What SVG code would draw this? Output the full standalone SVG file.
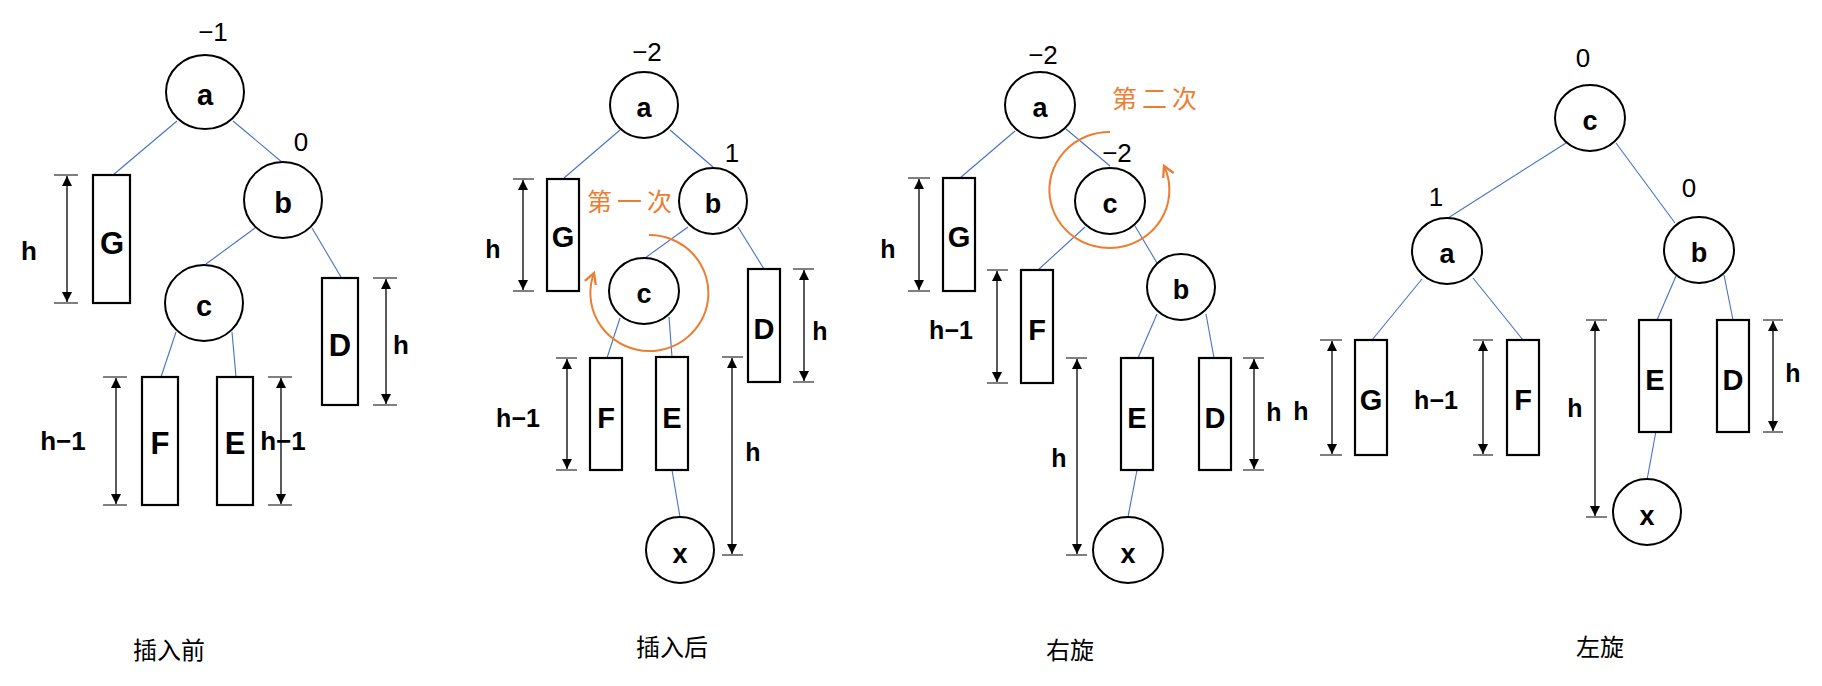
<svg xmlns="http://www.w3.org/2000/svg" width="1822" height="686" viewBox="0 0 1822 686">
<defs>
<marker id="ah" viewBox="0 0 10 10" refX="10" refY="5" markerWidth="10" markerHeight="10" markerUnits="userSpaceOnUse" orient="auto-start-reverse"><path d="M0,0 L10,5 L0,10 Z" fill="#000"/></marker>
<marker id="oa" viewBox="0 0 12 12" refX="10" refY="6" markerWidth="14" markerHeight="14" markerUnits="userSpaceOnUse" orient="auto"><path d="M1,1 L10,6 L1,11" fill="none" stroke="#ED7D31" stroke-width="2"/></marker>
<style>
.n{fill:#fff;stroke:#000;stroke-width:2}
.r{fill:#fff;stroke:#000;stroke-width:2.2}
.e{stroke:#4472C4;stroke-width:1.1;fill:none}
.d{stroke:#000;stroke-width:1.3;marker-start:url(#ah);marker-end:url(#ah)}
.t{stroke:#000;stroke-width:1}
.lb{font-family:"Liberation Sans",Arial,sans-serif;font-weight:bold;text-anchor:middle;dominant-baseline:central;fill:#000}
.num{font-family:"Liberation Sans",Arial,sans-serif;font-size:26px;text-anchor:middle;dominant-baseline:central;fill:#000}
.cap{font-family:"Noto Sans CJK SC",sans-serif;font-size:24px;text-anchor:middle;dominant-baseline:central;fill:#000}
.or{font-family:"Noto Sans CJK SC",sans-serif;font-size:25px;letter-spacing:5px;text-anchor:middle;dominant-baseline:central;fill:#ED7D31}
.arc{fill:none;stroke:#ED7D31;stroke-width:2;marker-end:url(#oa)}
</style>
</defs>
<g id="connectors">
<line class="e" x1="177" y1="121" x2="113" y2="175"/><line class="e" x1="233" y1="121" x2="283" y2="163"/>
<line class="e" x1="255" y1="228" x2="206" y2="264"/><line class="e" x1="312" y1="228" x2="341" y2="277"/>
<line class="e" x1="176" y1="332" x2="161" y2="377"/><line class="e" x1="232" y1="332" x2="236" y2="377"/>
<line class="e" x1="620" y1="130" x2="564" y2="178"/><line class="e" x1="670" y1="130" x2="713" y2="167"/>
<line class="e" x1="688" y1="227" x2="645" y2="258"/><line class="e" x1="738" y1="227" x2="764" y2="269"/>
<line class="e" x1="620" y1="318" x2="607" y2="358"/><line class="e" x1="669" y1="317" x2="672" y2="357"/>
<line class="e" x1="672" y1="470" x2="680" y2="517"/>
<line class="e" x1="1015" y1="131" x2="960" y2="178"/><line class="e" x1="1066" y1="129" x2="1110" y2="166"/>
<line class="e" x1="1085" y1="227" x2="1038" y2="270"/><line class="e" x1="1135" y1="226" x2="1157" y2="263"/>
<line class="e" x1="1157" y1="314" x2="1138" y2="358"/><line class="e" x1="1206" y1="314" x2="1214" y2="358"/>
<line class="e" x1="1137" y1="470" x2="1128" y2="517"/>
<line class="e" x1="1566" y1="143" x2="1448" y2="218"/><line class="e" x1="1616" y1="143" x2="1675" y2="223"/>
<line class="e" x1="1422" y1="279" x2="1372" y2="340"/><line class="e" x1="1473" y1="278" x2="1523" y2="340"/>
<line class="e" x1="1676" y1="276" x2="1657" y2="320"/><line class="e" x1="1724" y1="275" x2="1733" y2="320"/>
<line class="e" x1="1656" y1="431" x2="1647" y2="480"/>
</g>
<g id="dimensions">
<line class="t" x1="54" y1="175" x2="78" y2="175"/><line class="t" x1="54" y1="303" x2="78" y2="303"/><line class="d" x1="67" y1="176" x2="67" y2="302"/><text class="lb" x="29" y="251" font-size="26">h</text>
<line class="t" x1="373" y1="278" x2="397" y2="278"/><line class="t" x1="373" y1="405" x2="397" y2="405"/><line class="d" x1="386" y1="279" x2="386" y2="404"/><text class="lb" x="401" y="345" font-size="26">h</text>
<line class="t" x1="103" y1="377" x2="127" y2="377"/><line class="t" x1="103" y1="505" x2="127" y2="505"/><line class="d" x1="116" y1="378" x2="116" y2="504"/><text class="lb" x="63" y="441" font-size="26">h−1</text>
<line class="t" x1="268" y1="377" x2="292" y2="377"/><line class="t" x1="268" y1="505" x2="292" y2="505"/><line class="d" x1="281" y1="378" x2="281" y2="504"/><text class="lb" x="283" y="441" font-size="26">h−1</text>

<line class="t" x1="513" y1="179" x2="534" y2="179"/><line class="t" x1="513" y1="291" x2="534" y2="291"/><line class="d" x1="523" y1="180" x2="523" y2="290"/><text class="lb" x="493" y="249" font-size="25">h</text>
<line class="t" x1="556" y1="358" x2="577" y2="358"/><line class="t" x1="556" y1="470" x2="577" y2="470"/><line class="d" x1="567" y1="359" x2="567" y2="469"/><text class="lb" x="518" y="418" font-size="25">h−1</text>
<line class="t" x1="793" y1="269" x2="814" y2="269"/><line class="t" x1="793" y1="382" x2="814" y2="382"/><line class="d" x1="804" y1="270" x2="804" y2="381"/><text class="lb" x="820" y="331" font-size="25">h</text>
<line class="t" x1="722" y1="357" x2="743" y2="357"/><line class="t" x1="722" y1="555" x2="743" y2="555"/><line class="d" x1="732" y1="358" x2="732" y2="554"/><text class="lb" x="753" y="452" font-size="25">h</text>

<line class="t" x1="908" y1="178" x2="930" y2="178"/><line class="t" x1="908" y1="291" x2="930" y2="291"/><line class="d" x1="919" y1="179" x2="919" y2="290"/><text class="lb" x="888" y="249" font-size="25">h</text>
<line class="t" x1="987" y1="270" x2="1008" y2="270"/><line class="t" x1="987" y1="383" x2="1008" y2="383"/><line class="d" x1="997" y1="271" x2="997" y2="382"/><text class="lb" x="951" y="330" font-size="25">h−1</text>
<line class="t" x1="1066" y1="358" x2="1087" y2="358"/><line class="t" x1="1066" y1="555" x2="1087" y2="555"/><line class="d" x1="1077" y1="359" x2="1077" y2="554"/><text class="lb" x="1059" y="458" font-size="25">h</text>
<line class="t" x1="1243" y1="358" x2="1264" y2="358"/><line class="t" x1="1243" y1="470" x2="1264" y2="470"/><line class="d" x1="1254" y1="359" x2="1254" y2="469"/><text class="lb" x="1274" y="412" font-size="25">h</text>

<line class="t" x1="1320" y1="340" x2="1342" y2="340"/><line class="t" x1="1320" y1="455" x2="1342" y2="455"/><line class="d" x1="1332" y1="341" x2="1332" y2="454"/><text class="lb" x="1301" y="411" font-size="25">h</text>
<line class="t" x1="1473" y1="340" x2="1493" y2="340"/><line class="t" x1="1473" y1="455" x2="1493" y2="455"/><line class="d" x1="1483" y1="341" x2="1483" y2="454"/><text class="lb" x="1436" y="400" font-size="25">h−1</text>
<line class="t" x1="1586" y1="320" x2="1607" y2="320"/><line class="t" x1="1586" y1="517" x2="1607" y2="517"/><line class="d" x1="1595" y1="321" x2="1595" y2="516"/><text class="lb" x="1575" y="408" font-size="25">h</text>
<line class="t" x1="1763" y1="320" x2="1783" y2="320"/><line class="t" x1="1763" y1="432" x2="1783" y2="432"/><line class="d" x1="1773" y1="321" x2="1773" y2="431"/><text class="lb" x="1793" y="373" font-size="25">h</text>
</g>
<!-- panel 1 -->
<g id="p1-a"><ellipse class="n" cx="205" cy="92" rx="39" ry="37"/><text class="lb" x="205" y="95" font-size="29">a</text><text class="num" x="213" y="32" font-size="27">−1</text></g>
<g id="p1-b"><ellipse class="n" cx="283" cy="200" rx="39" ry="38"/><text class="lb" x="283" y="203" font-size="29">b</text><text class="num" x="301" y="142" font-size="27">0</text></g>
<g id="p1-c"><ellipse class="n" cx="204" cy="303" rx="39" ry="38"/><text class="lb" x="204" y="306" font-size="29">c</text></g>
<g id="p1-G"><rect class="r" x="93" y="175" width="37" height="128"/><text class="lb" x="112" y="243" font-size="31">G</text></g>
<g id="p1-D"><rect class="r" x="322" y="278" width="36" height="127"/><text class="lb" x="340" y="345" font-size="31">D</text></g>
<g id="p1-F"><rect class="r" x="142" y="377" width="36" height="128"/><text class="lb" x="160" y="443" font-size="31">F</text></g>
<g id="p1-E"><rect class="r" x="217" y="377" width="36" height="128"/><text class="lb" x="235" y="443" font-size="31">E</text></g>
<!-- panel 2 -->
<g id="p2-a"><ellipse class="n" cx="644" cy="105" rx="34" ry="33"/><text class="lb" x="644" y="108" font-size="27">a</text><text class="num" x="647" y="52">−2</text></g>
<g id="p2-b"><ellipse class="n" cx="713" cy="201" rx="34" ry="33"/><text class="lb" x="713" y="204" font-size="27">b</text><text class="num" x="732" y="153">1</text></g>
<g id="p2-c"><ellipse class="n" cx="644" cy="291" rx="35" ry="33"/><text class="lb" x="644" y="294" font-size="27">c</text></g>
<g id="p2-x"><ellipse class="n" cx="680" cy="550" rx="34" ry="33"/><text class="lb" x="680" y="554" font-size="27">x</text></g>
<g id="p2-G"><rect class="r" x="547" y="179" width="32" height="112"/><text class="lb" x="563" y="237" font-size="29">G</text></g>
<g id="p2-F"><rect class="r" x="590" y="358" width="32" height="112"/><text class="lb" x="606" y="418" font-size="29">F</text></g>
<g id="p2-E"><rect class="r" x="656" y="357" width="32" height="113"/><text class="lb" x="672" y="418" font-size="29">E</text></g>
<g id="p2-D"><rect class="r" x="748" y="269" width="32" height="113"/><text class="lb" x="764" y="329" font-size="29">D</text></g>
<g id="p2-rot"><path class="arc" d="M 649,235 A 59 58 0 1 1 594,273"/><text class="or" x="632" y="200">第一次</text></g>
<!-- panel 3 -->
<g id="p3-a"><ellipse class="n" cx="1040" cy="105" rx="35" ry="33"/><text class="lb" x="1040" y="108" font-size="27">a</text><text class="num" x="1043" y="55">−2</text></g>
<g id="p3-c"><ellipse class="n" cx="1110" cy="201" rx="35" ry="33"/><text class="lb" x="1110" y="204" font-size="27">c</text><text class="num" x="1117" y="153">−2</text></g>
<g id="p3-b"><ellipse class="n" cx="1181" cy="287" rx="34" ry="33"/><text class="lb" x="1181" y="290" font-size="27">b</text></g>
<g id="p3-x"><ellipse class="n" cx="1128" cy="550" rx="35" ry="33"/><text class="lb" x="1128" y="554" font-size="27">x</text></g>
<g id="p3-G"><rect class="r" x="943" y="178" width="32" height="113"/><text class="lb" x="959" y="237" font-size="29">G</text></g>
<g id="p3-F"><rect class="r" x="1021" y="270" width="32" height="113"/><text class="lb" x="1037" y="330" font-size="29">F</text></g>
<g id="p3-E"><rect class="r" x="1121" y="358" width="32" height="112"/><text class="lb" x="1137" y="418" font-size="29">E</text></g>
<g id="p3-D"><rect class="r" x="1199" y="358" width="32" height="112"/><text class="lb" x="1215" y="418" font-size="29">D</text></g>
<g id="p3-rot"><path class="arc" d="M 1110,132 A 60 58 0 1 0 1164,166"/><text class="or" x="1157" y="97">第二次</text></g>
<!-- panel 4 -->
<g id="p4-c"><ellipse class="n" cx="1590" cy="118" rx="35" ry="33"/><text class="lb" x="1590" y="121" font-size="27">c</text><text class="num" x="1583" y="58">0</text></g>
<g id="p4-a"><ellipse class="n" cx="1447" cy="251" rx="35" ry="33"/><text class="lb" x="1447" y="254" font-size="27">a</text><text class="num" x="1436" y="197">1</text></g>
<g id="p4-b"><ellipse class="n" cx="1699" cy="250" rx="35" ry="33"/><text class="lb" x="1699" y="253" font-size="27">b</text><text class="num" x="1689" y="188">0</text></g>
<g id="p4-x"><ellipse class="n" cx="1647" cy="512" rx="34" ry="33"/><text class="lb" x="1647" y="516" font-size="27">x</text></g>
<g id="p4-G"><rect class="r" x="1355" y="340" width="32" height="115"/><text class="lb" x="1371" y="400" font-size="29">G</text></g>
<g id="p4-F"><rect class="r" x="1507" y="340" width="32" height="115"/><text class="lb" x="1523" y="400" font-size="29">F</text></g>
<g id="p4-E"><rect class="r" x="1639" y="320" width="32" height="112"/><text class="lb" x="1655" y="380" font-size="29">E</text></g>
<g id="p4-D"><rect class="r" x="1717" y="320" width="32" height="112"/><text class="lb" x="1733" y="380" font-size="29">D</text></g>
<g id="captions">
<text class="cap" x="169" y="648">插入前</text>
<text class="cap" x="672" y="645">插入后</text>
<text class="cap" x="1070" y="648">右旋</text>
<text class="cap" x="1600" y="645">左旋</text>
</g>
</svg>
